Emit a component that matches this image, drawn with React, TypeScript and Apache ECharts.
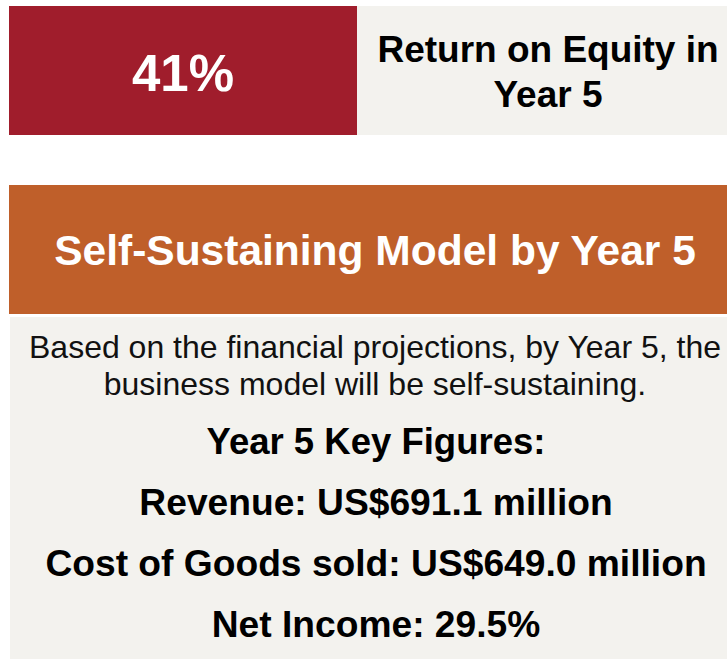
import React, { useEffect, useRef } from "react";
import * as echarts from "echarts";

const headlineValue = "41%";
const headlineLabel = ["Return on Equity in", "Year 5"];
const bannerTitle = "Self-Sustaining Model by Year 5";
const introLines = [
  "Based on the financial projections, by Year 5, the",
  "business model will be self-sustaining.",
];
const keyFiguresTitle = "Year 5 Key Figures:";
const keyFigures = [
  "Revenue: US$691.1 million",
  "Cost of Goods sold: US$649.0 million",
  "Net Income: 29.5%",
];

const FONT = '"Liberation Sans", Arial, Helvetica, sans-serif';
const RED = "#A01D2C";
const ORANGE = "#BF5F2A";
const LIGHT = "#F3F2EE";

function txt(text: string, x: number, y: number, size: number, bold: boolean, fill: string) {
  return {
    type: "text",
    x,
    y,
    style: {
      text,
      fill,
      font: `${bold ? "bold " : ""}${size}px ${FONT}`,
      align: "center",
      verticalAlign: "middle",
    },
  };
}

export default function App() {
  const ref = useRef<HTMLDivElement>(null);
  useEffect(() => {
    if (!ref.current) return;
    const chart = echarts.init(ref.current, null, { renderer: "svg" });
    const elements: any[] = [
      { type: "rect", shape: { x: 9, y: 6, width: 348, height: 129 }, style: { fill: RED } },
      { type: "rect", shape: { x: 357, y: 6, width: 370, height: 129 }, style: { fill: LIGHT } },
      { type: "rect", shape: { x: 9, y: 185, width: 718, height: 129 }, style: { fill: ORANGE } },
      { type: "rect", shape: { x: 10, y: 317, width: 717, height: 342 }, style: { fill: LIGHT } },
      txt(headlineValue, 183, 73, 51, true, "#FFFFFF"),
      txt(headlineLabel[0], 548, 49, 37, true, "#000000"),
      txt(headlineLabel[1], 548, 94, 37, true, "#000000"),
      txt(bannerTitle, 375, 250, 42.5, true, "#FFFFFF"),
      txt(introLines[0], 375, 347, 32, false, "#111111"),
      txt(introLines[1], 375, 384, 32, false, "#111111"),
      txt(keyFiguresTitle, 376, 441, 36.5, true, "#000000"),
    ];
    keyFigures.forEach((k, i) => {
      elements.push(txt(k, 376, 502 + i * 61, 37.2, true, "#000000"));
    });
    chart.setOption({
      animation: false,
      backgroundColor: "#FFFFFF",
      graphic: { elements },
    });
    return () => chart.dispose();
  }, []);
  return (
    <div
      ref={ref}
      style={{ position: "fixed", left: 0, top: 0, width: 727, height: 660 }}
    />
  );
}
